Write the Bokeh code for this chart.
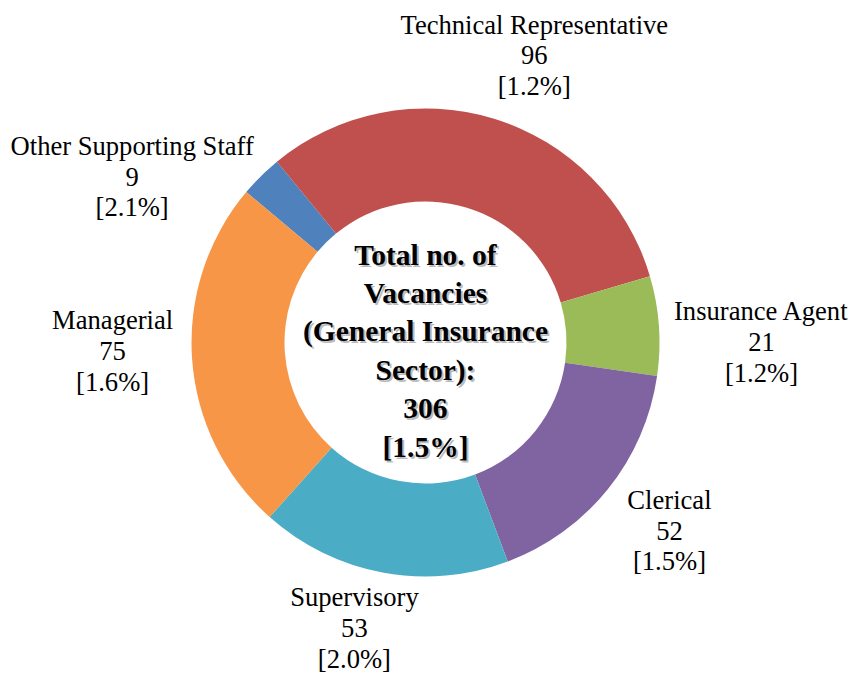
import math
from bokeh.plotting import figure
from bokeh.models import Range1d, ColumnDataSource
from bokeh.embed import file_html
from bokeh.resources import INLINE
from bokeh.core.properties import value

# ---- data ----
categories = ["Other Supporting Staff", "Technical Representative", "Insurance Agent",
              "Clerical", "Supervisory", "Managerial"]
vacancies = [9, 96, 21, 52, 53, 75]
rates = ["2.1%", "1.2%", "1.2%", "1.5%", "2.0%", "1.6%"]
overall_rate = "1.5%"
center_title = ["Total no. of", "Vacancies", "(General Insurance", "Sector):"]

# ---- style / layout ----
colors = ["#4F81BD", "#C0504D", "#9BBB59", "#8064A2", "#4BACC6", "#F79646"]
first_slice_angle = 310.0          # degrees, clockwise from 12 o'clock
label_angle_shift = [-15.8, 3.7, 4.0, -1.2, 3.4, 2.5]   # deg from slice middle
label_radius = [337, 307, 336, 308, 294, 313]            # px from centre

W, H = 853, 676


def Y(py):
    return H - py


cx, cy = 425, Y(342)
r_out, r_in = 234, 141

p = figure(width=W, height=H, x_range=Range1d(0, W), y_range=Range1d(0, H),
           output_backend="svg", toolbar_location=None, min_border=0,
           x_axis_location=None, y_axis_location=None)
p.grid.visible = False
p.outline_line_color = None
p.background_fill_color = "white"
p.border_fill_color = "white"

total = sum(vacancies)
starts, ends, mids = [], [], []
acc = 0.0
for v in vacancies:
    t1 = first_slice_angle + acc / total * 360.0
    acc += v
    t2 = first_slice_angle + acc / total * 360.0
    starts.append(math.radians(90 - t2))
    ends.append(math.radians(90 - t1))
    mids.append((t1 + t2) / 2)

src = ColumnDataSource(dict(x=[cx] * len(vacancies), y=[cy] * len(vacancies),
                            start=starts, end=ends, color=colors, cat=categories))
p.annular_wedge(x="x", y="y", inner_radius=r_in, outer_radius=r_out,
                start_angle="start", end_angle="end", fill_color="color",
                line_color=None, source=src)

lx, ly, lt = [], [], []
for i, c in enumerate(categories):
    th = math.radians(mids[i] + label_angle_shift[i])
    lx.append(cx + label_radius[i] * math.sin(th))
    ly.append(cy + label_radius[i] * math.cos(th))
    lt.append(f"{c}\n{vacancies[i]}\n[{rates[i]}]")

p.text(x=lx, y=ly, text=lt, text_font=value("Liberation Serif"), text_font_size="26.6px",
       text_align="center", text_baseline="middle", text_line_height=1.03, text_color="black")

center_text = "\n".join(center_title + [str(total), f"[{overall_rate}]"])
cty = Y(350)
p.text(x=[cx], y=[cty], text=[center_text], text_font=value("Liberation Serif"),
       text_font_size="29.5px", text_font_style="bold", text_align="center",
       text_baseline="middle", text_line_height=1.2, text_color="#808080", text_alpha=0.55,
       x_offset=2, y_offset=2)
p.text(x=[cx], y=[cty], text=[center_text], text_font=value("Liberation Serif"),
       text_font_size="29.5px", text_font_style="bold", text_align="center",
       text_baseline="middle", text_line_height=1.2, text_color="black")

open("out.html", "w").write(file_html(p, INLINE))
